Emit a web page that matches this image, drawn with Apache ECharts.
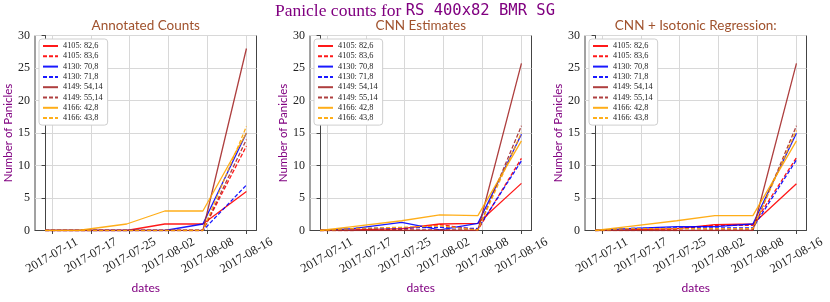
<!DOCTYPE html>
<html>
<head>
<meta charset="utf-8">
<script src="https://cdn.jsdelivr.net/npm/echarts@6/dist/echarts.min.js"></script>
<style>html,body{margin:0;padding:0;background:#fff}#c{width:830px;height:302px}</style>
</head>
<body>
<div id="c"></div>
<script>
// ---- data ----
const dates = ['2017-07-10','2017-07-16','2017-07-25','2017-08-01','2017-08-08','2017-08-16'];
const tickLabels = ['2017-07-11','2017-07-17','2017-07-25','2017-08-02','2017-08-08','2017-08-16'];
// tick positions in days after the first date
const tickDays = [1.26, 8.41, 15.56, 22.70, 29.85, 37.0];
const seriesNames = ['4105: 82,6','4105: 83,6','4130: 70,8','4130: 71,8','4149: 54,14','4149: 55,14','4166: 42,8','4166: 43,8'];
const panelTitles = ['Annotated Counts','CNN Estimates','CNN + Isotonic Regression:'];

const annotated = [
  [0,0,0,1,1,6],
  [0,0,0,0,0,13],
  [0,0,0,0,1,15],
  [0,0,0,0,0,7],
  [0,0,0,0,0,28],
  [0,0,0,0,0,14],
  [0,0,1,3,3,15],
  [0,0,0,0,0,16]
];
const cnn = [
  [0,0.1,0.3,1.0,1.1,7.25],
  [0,0,0.2,0.9,0.1,11.1],
  [0,0.3,1.25,0.1,1.1,14.8],
  [0,0.3,0.4,0.5,0.3,10.7],
  [0,0,0,0,0,25.7],
  [0,0,0.1,0.1,0.1,16.1],
  [0,0.6,1.5,2.4,2.3,13.8],
  [0,0.3,0.5,0.7,0.1,15.05]
];
const isotonic = [
  [0,0.1,0.3,0.9,1.0,7.2],
  [0,0.1,0.2,0.8,0.8,11.2],
  [0,0.3,0.6,0.6,1.0,14.95],
  [0,0.3,0.4,0.4,0.4,10.85],
  [0,0,0,0,0,25.7],
  [0,0,0,0.1,0.1,16.1],
  [0,0.6,1.5,2.3,2.3,13.8],
  [0,0.3,0.3,0.3,0.3,15.4]
];
const yTicks = [0,5,10,15,20,25,30];

// ---- styles ----
const colors = ['#ff0000','#ff0000','#0000ff','#0000ff','#a52a2a','#a52a2a','#ffa500','#ffa500'];
const dashed = [false,true,false,true,false,true,false,true];
const panels = [annotated, cnn, isotonic];
const gridLeft = [35, 310, 585];
const gridW = 221.5, gridTop = 35.5, gridH = 195;

const day0 = Date.UTC(2017,6,10);
const toDay = s => { const p = s.split('-').map(Number); return (Date.UTC(p[0],p[1]-1,p[2]) - day0)/86400000; };
const xDays = dates.map(toDay);
const span = xDays[xDays.length-1] - xDays[0];
const xMin = xDays[0] - 0.05*span, xMax = xDays[xDays.length-1] + 0.05*span;

const serif = 'Liberation Serif';
const purple = '#800080';
const grids = [], xAxes = [], yAxes = [], series = [], legends = [], titles = [];

titles.push({
  left: 'center', top: 2, padding: 0,
  text: '{a|Panicle counts for }{b|RS 400x82 BMR SG}',
  textStyle: { fontWeight: 'normal', rich: {
    a: { fontFamily: serif, fontSize: 17.5, fontWeight: 'normal', color: purple },
    b: { fontFamily: 'DejaVu Sans Mono', fontSize: 15.5, fontWeight: 'normal', color: purple }
  }}
});

panels.forEach((pdata, pi) => {
  grids.push({ left: gridLeft[pi], top: gridTop, width: gridW, height: gridH, show: true,
    borderColor: '#444', borderWidth: 1, containLabel: false });
  titles.push({ text: panelTitles[pi], left: gridLeft[pi] + gridW/2, textAlign: 'center', top: 19, padding: 0,
    textStyle: { fontFamily: 'Lato', fontSize: 13.5, fontWeight: 'normal', color: '#a0522d' } });
  xAxes.push({
    type: 'value', gridIndex: pi, min: xMin, max: xMax,
    name: 'dates', nameLocation: 'middle', nameGap: 38,
    nameTextStyle: { fontFamily: 'Lato', fontSize: 12, color: purple },
    axisLine: { show: true, lineStyle: { color: '#444', width: 1 } },
    axisTick: { show: true, length: 3.5, customValues: tickDays, lineStyle: { color: '#444' } },
    splitLine: { show: true, lineStyle: { color: '#d8d8d8', width: 1 } },
    axisLabel: { customValues: tickDays, rotate: 30, align: 'center', verticalAlign: 'middle', margin: 25,
      fontFamily: serif, fontSize: 12.5, color: '#222',
      formatter: v => { const i = tickDays.findIndex(t => Math.abs(t - v) < 1e-6); return i >= 0 ? tickLabels[i] : ''; } }
  });
  yAxes.push({
    type: 'value', gridIndex: pi, min: 0, max: 30, interval: 5,
    name: 'Number of Panicles', nameLocation: 'middle', nameGap: 11,
    nameTextStyle: { fontFamily: 'Lato', fontSize: 11.5, color: purple },
    axisLine: { show: true, lineStyle: { color: '#444', width: 1 } },
    axisTick: { show: true, length: 3.5, lineStyle: { color: '#444' } },
    splitLine: { show: true, lineStyle: { color: '#d8d8d8', width: 1 } },
    axisLabel: { margin: 5, fontFamily: serif, fontSize: 12, color: '#222' }
  });
  pdata.forEach((vals, si) => {
    series.push({
      type: 'line', name: seriesNames[si], xAxisIndex: pi, yAxisIndex: pi,
      data: vals.map((v, k) => [xDays[k], v]),
      symbol: 'none', showSymbol: false, animation: false, silent: true,
      lineStyle: { color: colors[si], width: 1.3, type: dashed[si] ? [4, 2] : 'solid', opacity: 0.9 },
      itemStyle: { color: colors[si] }
    });
  });
  legends.push({
    left: gridLeft[pi] + 4, top: 39, orient: 'vertical',
    itemWidth: 15, itemHeight: 8, itemGap: 2.3,
    padding: [3, 5, 3, 3],
    backgroundColor: '#fff', borderColor: '#cfcfcf', borderWidth: 1, borderRadius: 3,
    itemStyle: { opacity: 0 },
    textStyle: { fontFamily: serif, fontSize: 8.3, color: '#222' },
    data: seriesNames.slice(), selectedMode: false
  });
});

const chart = echarts.init(document.getElementById('c'), null, { renderer: 'canvas' });
chart.setOption({
  animation: false, backgroundColor: '#fff',
  title: titles, grid: grids, xAxis: xAxes, yAxis: yAxes, legend: legends, series: series
});
</script>
</body>
</html>
